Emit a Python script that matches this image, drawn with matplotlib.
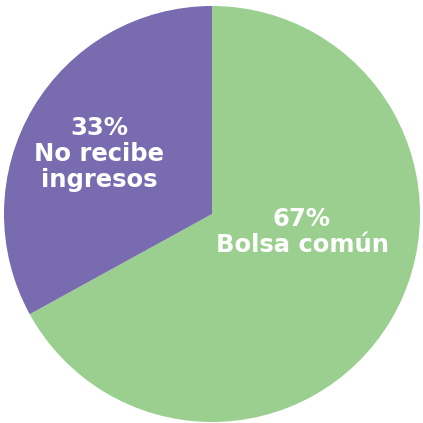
import matplotlib
matplotlib.use("Agg")
import matplotlib.pyplot as plt

categories = ["Bolsa común", "No recibe\ningresos"]
shares = [67, 33]
colors = ["#9BCF8F", "#786BB0"]

fig = plt.figure(figsize=(4.23, 4.23), dpi=100)
ax = fig.add_axes([0, 0, 1, 1])

ax.pie(shares, colors=colors, startangle=90, counterclock=False,
       center=(212, 209), radius=208, frame=True,
       wedgeprops=dict(linewidth=0))
ax.set_xlim(0, 423)
ax.set_ylim(0, 423)
ax.set_aspect("equal")
ax.axis("off")

label_pos = [(302, 191), (99, 269)]
for cat, val, (x, y) in zip(categories, shares, label_pos):
    ax.text(x, y, f"{val}%\n{cat}", ha="center", va="center", color="white",
            fontsize=17.5, fontweight="bold", family="DejaVu Sans",
            linespacing=1.12)

fig.savefig("out.png", dpi=100)
